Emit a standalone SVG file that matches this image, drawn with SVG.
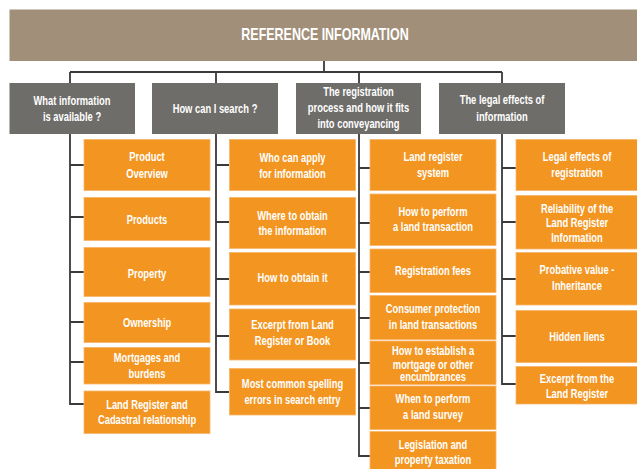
<svg xmlns="http://www.w3.org/2000/svg" width="637" height="469" viewBox="0 0 637 469">
  <style>
    .banner { fill: #a18f79; }
    .head { fill: #6f6d6a; }
    .item { fill: #f39521; stroke: #f7b56a; stroke-width: 0.8; }
    text { font-family: "Liberation Sans", Arial, sans-serif; font-weight: bold; fill: #ffffff; text-anchor: middle; dominant-baseline: central; transform-box: fill-box; transform-origin: center; transform: scaleX(0.78); }
    .title { font-size: 16px; }
    .h { font-size: 12px; }
    .t { font-size: 12px; }
    .wire { fill: none; stroke: #3a3a3a; stroke-width: 1.8; }
  </style>
  <rect width="637" height="469" fill="#ffffff"/>

  <!-- connectors -->
  <g id="connectors" class="wire">
    <path d="M324 61 V72 M70 72 H502 M70 72 V83 M216 72 V83 M359 72 V83 M502 72 V83"/>
    <!-- column 1 -->
    <path d="M70 134 V404 H84 M70 165 H84 M70 217 H84 M70 272 H84 M70 322 H84 M70 362 H84"/>
    <!-- column 2 -->
    <path d="M216 134 V392 H229 M216 165 H229 M216 222 H229 M216 279 H229 M216 336 H229"/>
    <!-- column 3 -->
    <path d="M359 134 V456 H370 M359 168 H370 M359 223 H370 M359 272 H370 M359 318 H370 M359 363 H370 M359 408 H370"/>
    <!-- column 4 -->
    <path d="M502 134 V384 H516 M502 168 H516 M502 222 H516 M502 279 H516 M502 336 H516"/>
  </g>

  <g id="root">
    <rect class="banner" x="9.5" y="9.5" width="628" height="51.5"/>
    <text class="title" x="325" y="34">REFERENCE INFORMATION</text>
  </g>

  <!-- section headings -->
  <g id="h1">
    <rect class="head" x="9.5" y="83" width="125.5" height="51"/>
    <text class="h" x="72" y="101">What information</text>
    <text class="h" x="72" y="117">is available ?</text>
  </g>
  <g id="h2">
    <rect class="head" x="152" y="83" width="126" height="51"/>
    <text class="h" x="215" y="108.5">How can I search ?</text>
  </g>
  <g id="h3">
    <rect class="head" x="296" y="83" width="125" height="51"/>
    <text class="h" x="358.5" y="92">The registration</text>
    <text class="h" x="358.5" y="108">process and how it fits</text>
    <text class="h" x="358.5" y="123.5">into conveyancing</text>
  </g>
  <g id="h4">
    <rect class="head" x="439" y="83" width="126" height="51"/>
    <text class="h" x="502" y="100">The legal effects of</text>
    <text class="h" x="502" y="116.5">information</text>
  </g>

  <!-- column 1 -->
  <g id="c1a">
    <rect class="item" x="84" y="139.5" width="126" height="51"/>
    <text class="t" x="147" y="157">Product</text>
    <text class="t" x="147" y="173.5">Overview</text>
  </g>
  <g id="c1b">
    <rect class="item" x="84" y="197.5" width="126" height="43"/>
    <text class="t" x="147" y="220">Products</text>
  </g>
  <g id="c1c">
    <rect class="item" x="84" y="247.5" width="126" height="49"/>
    <text class="t" x="147" y="273.5">Property</text>
  </g>
  <g id="c1d">
    <rect class="item" x="84" y="302.5" width="126" height="40"/>
    <text class="t" x="147" y="322.5">Ownership</text>
  </g>
  <g id="c1e">
    <rect class="item" x="84" y="347.5" width="126" height="36.5"/>
    <text class="t" x="147" y="358">Mortgages and</text>
    <text class="t" x="147" y="374">burdens</text>
  </g>
  <g id="c1f">
    <rect class="item" x="84" y="391" width="126" height="42.5"/>
    <text class="t" x="147" y="404.5">Land Register and</text>
    <text class="t" x="147" y="420">Cadastral relationship</text>
  </g>

  <!-- column 2 -->
  <g id="c2a">
    <rect class="item" x="229.5" y="139.5" width="126" height="51"/>
    <text class="t" x="292.5" y="157.5">Who can apply</text>
    <text class="t" x="292.5" y="173.5">for information</text>
  </g>
  <g id="c2b">
    <rect class="item" x="229.5" y="197.5" width="126" height="51"/>
    <text class="t" x="292.5" y="216">Where to obtain</text>
    <text class="t" x="292.5" y="231">the information</text>
  </g>
  <g id="c2c">
    <rect class="item" x="229.5" y="252.5" width="126" height="52.5"/>
    <text class="t" x="292.5" y="278">How to obtain it</text>
  </g>
  <g id="c2d">
    <rect class="item" x="229.5" y="309" width="126" height="51"/>
    <text class="t" x="292.5" y="325">Excerpt from Land</text>
    <text class="t" x="292.5" y="341">Register or Book</text>
  </g>
  <g id="c2e">
    <rect class="item" x="229.5" y="368.5" width="126" height="46.5"/>
    <text class="t" x="292.5" y="384">Most common spelling</text>
    <text class="t" x="292.5" y="399.5">errors in search entry</text>
  </g>

  <!-- column 3 -->
  <g id="c3a">
    <rect class="item" x="370" y="139.5" width="126" height="51"/>
    <text class="t" x="433" y="157">Land register</text>
    <text class="t" x="433" y="173">system</text>
  </g>
  <g id="c3b">
    <rect class="item" x="370" y="194" width="126" height="51.5"/>
    <text class="t" x="433" y="212">How to perform</text>
    <text class="t" x="433" y="227">a land transaction</text>
  </g>
  <g id="c3c">
    <rect class="item" x="370" y="249" width="126" height="43.5"/>
    <text class="t" x="433" y="271">Registration fees</text>
  </g>
  <g id="c3d">
    <rect class="item" x="370" y="295.5" width="126" height="44"/>
    <text class="t" x="433" y="309">Consumer protection</text>
    <text class="t" x="433" y="324.5">in land transactions</text>
  </g>
  <g id="c3e">
    <rect class="item" x="370" y="341" width="126" height="43.5"/>
    <text class="t" x="433" y="351">How to establish a</text>
    <text class="t" x="433" y="364.5">mortgage or other</text>
    <text class="t" x="433" y="377">encumbrances</text>
  </g>
  <g id="c3f">
    <rect class="item" x="370" y="386" width="126" height="43.5"/>
    <text class="t" x="433" y="398.5">When to perform</text>
    <text class="t" x="433" y="415">a land survey</text>
  </g>
  <g id="c3g">
    <rect class="item" x="370" y="431.5" width="126" height="40"/>
    <text class="t" x="433" y="444.5">Legislation and</text>
    <text class="t" x="433" y="460">property taxation</text>
  </g>

  <!-- column 4 -->
  <g id="c4a">
    <rect class="item" x="516" y="139.5" width="122" height="51"/>
    <text class="t" x="577" y="157">Legal effects of</text>
    <text class="t" x="577" y="173">registration</text>
  </g>
  <g id="c4b">
    <rect class="item" x="516" y="195.5" width="122" height="53.5"/>
    <text class="t" x="577" y="208.5">Reliability of the</text>
    <text class="t" x="577" y="223">Land Register</text>
    <text class="t" x="577" y="238">Information</text>
  </g>
  <g id="c4c">
    <rect class="item" x="516" y="252.5" width="122" height="52.5"/>
    <text class="t" x="577" y="270">Probative value -</text>
    <text class="t" x="577" y="286">Inheritance</text>
  </g>
  <g id="c4d">
    <rect class="item" x="516" y="310.5" width="122" height="52"/>
    <text class="t" x="577" y="337">Hidden liens</text>
  </g>
  <g id="c4e">
    <rect class="item" x="516" y="366.5" width="122" height="37.5"/>
    <text class="t" x="577" y="378.5">Excerpt from the</text>
    <text class="t" x="577" y="393.5">Land Register</text>
  </g>
</svg>
